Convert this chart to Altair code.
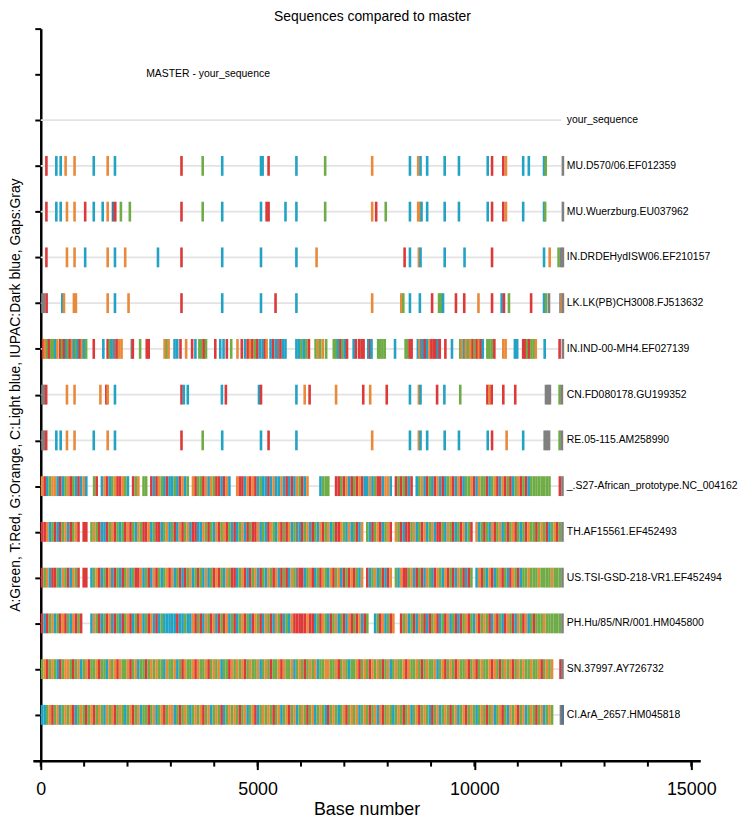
import altair as alt
import pandas as pd

# ---------------- text ----------------
TITLE = "Sequences compared to master"
X_TITLE = "Base number"
Y_TITLE = "A:Green, T:Red, G:Orange, C:Light blue, IUPAC:Dark blue, Gaps:Gray"
MASTER_LABEL = "MASTER - your_sequence"
MASTER_ROW = 15
MASTER_X = 2430

# ---------------- rows (top to bottom) ----------------
SEQ_NAMES = [
    "your_sequence",
    "MU.D570/06.EF012359",
    "MU.Wuerzburg.EU037962",
    "IN.DRDEHydISW06.EF210157",
    "LK.LK(PB)CH3008.FJ513632",
    "IN.IND-00-MH4.EF027139",
    "CN.FD080178.GU199352",
    "RE.05-115.AM258990",
    "_.S27-African_prototype.NC_004162",
    "TH.AF15561.EF452493",
    "US.TSI-GSD-218-VR1.EF452494",
    "PH.Hu/85/NR/001.HM045800",
    "SN.37997.AY726732",
    "CI.ArA_2657.HM045818",
]
SEQ_ROWS = [14, 13, 12, 11, 10, 9, 8, 7, 6, 5, 4, 3, 2, 1]
ALIGN_LEN = 12000
LABEL_X = 12130

X_TICKS = [0, 5000, 10000, 15000]
X_MINOR = list(range(0, 15001, 1000))
Y_TICKS = list(range(0, 17))

BASES = ["A", "T", "G", "C", "N", "-"]
BASE_COLORS = ["#6fab46", "#dc3a3a", "#e98a3b", "#22a3c4", "#5b7290", "#808080"]

# ---------------- sparse rows: (base position, base) ----------------
MU_D570 = [(130, "T"), (359, "C"), (459, "C"), (573, "G"), (779, "G"), (1222, "C"), (1543, "G"),
           (1711, "C"), (3245, "T"), (3734, "A"), (4184, "C"), (5078, "C"), (5116, "C"), (5253, "T"),
           (5895, "C"), (6558, "A"), (7642, "G"), (8513, "C"), (8703, "G"), (8757, "C"), (8910, "C"),
           (9314, "C"), (9643, "C"), (10307, "C"), (10406, "T"), (10666, "T"), (10727, "G"),
           (11124, "C"), (11254, "C"), (11605, "C"), (11643, "A"), (12040, "-")]

MU_WUERZBURG = [(130, "T"), (359, "C"), (459, "C"), (604, "G"), (779, "G"), (1024, "T"), (1222, "C"),
                (1428, "C"), (1543, "G"), (1665, "N"), (1718, "T"), (1848, "A"), (2054, "A"),
                (3245, "T"), (3734, "A"), (4184, "C"), (5078, "C"), (5208, "T"), (5253, "T"),
                (5643, "C"), (5895, "C"), (6558, "A"), (7642, "G"), (7734, "T"), (7955, "A"),
                (8513, "C"), (8703, "G"), (8742, "G"), (8780, "C"), (8910, "C"), (9314, "C"),
                (9643, "C"), (10307, "C"), (10406, "T"), (10666, "T"), (10727, "G"), (11124, "C"),
                (11605, "C"), (11630, "A"), (12040, "-")]

IN_DRDE = [(130, "T"), (604, "G"), (779, "G"), (1024, "C"), (1543, "G"), (1711, "C"), (1947, "G"),
           (2703, "C"), (3245, "T"), (4184, "C"), (5078, "C"), (5895, "C"), (6360, "G"), (8390, "T"),
           (8513, "C"), (8719, "G"), (8757, "C"), (9314, "C"), (9772, "C"), (10406, "T"),
           (11605, "C"), (11735, "G"), (11941, "A"), (12002, "-"), (12040, "-")]

LK_CH3008 = [(40, "-"), (80, "-"), (135, "T"), (497, "C"), (535, "G"), (764, "G"), (810, "G"),
             (1543, "G"), (1711, "C"), (2024, "G"), (3245, "T"), (4184, "C"), (5078, "C"),
             (5414, "T"), (5895, "C"), (7642, "G"), (8314, "G"), (8360, "A"), (8513, "C"),
             (8742, "C"), (9024, "T"), (9184, "A"), (9230, "A"), (9276, "C"), (9574, "T"),
             (9765, "T"), (10093, "G"), (10406, "T"), (10628, "C"), (10681, "T"), (10796, "A"),
             (11307, "T"), (11605, "C"), (11651, "A"), (11719, "-"), (11985, "-"), (12010, "G"),
             (12040, "-")]

IN_IND = [(54, "T"), (92, "G"), (146, "A"), (191, "T"), (245, "A"), (283, "A"), (336, "C"), (382, "G"),
          (451, "T"), (489, "A"), (535, "T"), (588, "C"), (627, "A"), (672, "T"), (718, "G"),
          (764, "C"), (810, "A"), (856, "C"), (901, "T"), (947, "G"), (993, "C"), (1046, "A"),
          (1222, "T"), (1443, "C"), (1543, "T"), (1589, "A"), (1634, "C"), (1695, "-"), (1749, "T"),
          (1810, "G"), (1863, "G"), (2100, "-"), (2123, "T"), (2291, "A"), (2444, "T"), (2489, "T"),
          (2856, "G"), (2902, "A"), (2948, "G"), (3085, "C"), (3146, "C"), (3222, "T"), (3352, "G"),
          (3490, "T"), (3566, "C"), (3658, "A"), (3703, "A"), (3757, "T"), (3810, "A"), (4024, "T"),
          (4139, "C"), (4215, "C"), (4291, "T"), (4391, "A"), (4536, "G"), (4635, "T"), (4711, "C"),
          (4772, "T"), (4826, "G"), (4879, "T"), (4940, "A"), (4994, "T"), (5055, "C"), (5116, "C"),
          (5169, "T"), (5208, "G"), (5299, "C"), (5360, "T"), (5421, "C"), (5475, "-"), (5528, "T"),
          (5589, "C"), (5643, "C"), (5895, "C"), (5948, "C"), (6009, "A"), (6063, "C"), (6124, "A"),
          (6184, "T"), (6337, "A"), (6390, "G"), (6444, "A"), (6505, "G"), (6581, "A"), (6757, "A"),
          (6802, "A"), (6856, "C"), (6909, "T"), (6955, "A"), (7009, "C"), (7062, "T"), (7215, "C"),
          (7268, "T"), (7344, "T"), (7398, "T"), (7444, "T"), (7551, "C"), (7596, "T"), (7627, "C"),
          (7780, "A"), (7825, "A"), (7879, "A"), (7932, "A"), (8169, "C"), (8413, "A"), (8452, "A"),
          (8505, "T"), (8551, "T"), (8696, "C"), (8734, "G"), (8772, "-"), (8810, "C"), (8856, "T"),
          (8910, "C"), (8963, "G"), (9009, "T"), (9062, "T"), (9108, "T"), (9154, "C"), (9200, "T"),
          (9330, "T"), (9482, "C"), (9673, "A"), (9711, "G"), (9765, "C"), (9803, "G"), (9849, "A"),
          (9902, "G"), (9956, "T"), (10001, "A"), (10055, "T"), (10101, "G"), (10147, "T"),
          (10192, "C"), (10299, "A"), (10345, "A"), (10398, "A"), (10459, "T"), (10666, "G"),
          (10719, "G"), (10933, "C"), (10986, "C"), (11124, "T"), (11170, "T"), (11215, "A"),
          (11261, "T"), (11315, "A"), (11368, "A"), (11414, "G"), (11620, "C"), (11964, "T"),
          (12040, "-")]

CN_FD080178 = [(40, "-"), (80, "-"), (125, "T"), (604, "G"), (779, "G"), (1375, "G"), (1512, "T"),
               (1543, "G"), (1711, "C"), (3245, "T"), (3299, "C"), (3390, "C"), (4177, "C"),
               (4268, "T"), (5032, "C"), (5078, "T"), (5895, "C"), (6086, "G"), (6199, "T"),
               (6810, "G"), (7436, "T"), (7596, "G"), (7978, "T"), (8513, "C"), (8719, "G"),
               (8757, "C"), (9139, "T"), (9307, "C"), (9673, "A"), (10299, "T"), (10345, "G"),
               (10398, "T"), (10666, "T"), (10941, "T"), (11650, "-"), (11700, "-"), (11740, "-"),
               (11964, "A"), (12017, "-")]

RE_05_115 = [(40, "-"), (80, "-"), (125, "T"), (359, "C"), (459, "C"), (604, "G"), (779, "G"),
             (1222, "C"), (1543, "G"), (1711, "C"), (3245, "T"), (3734, "A"), (4184, "C"),
             (5078, "C"), (5253, "T"), (5895, "C"), (7642, "G"), (8513, "C"), (8719, "G"),
             (8757, "C"), (8910, "C"), (9314, "C"), (9643, "C"), (10307, "C"), (10406, "T"),
             (10742, "G"), (11124, "C"), (11620, "-"), (11670, "-"), (11720, "-"), (11964, "A"),
             (12017, "-")]

# ---------------- dense rows: one base per 60-base bin ('.' = same as master) ----------------
BIN = 60
S27_BINS = ("GTCAGGCTCA" "GTACTCGC.." "AT.CGTCAGT" "TGAC.TAG.A" "A.TCTGACTC"
            "CACTGCA.GT" "AATGCGATTC" "TGC..GTTCG" "TGTCACCTCG" "CCGCTCTCGA"
            "TCG....CAA" "A..TTATGCT" "ATGTCCGCAT" "TCGGC.TATA" "TCT.CAGCTA"
            "CTGCTCAGTC" "GTCAAGTCGA" "ATCAGTCGTA" "TCAGTATCAA" "AAAAAA...T")
TH_BINS = ("TTGCATCTAG" "CTAGT.TT.A" "GATCCTAGTA" "CATGTACGAT" "TGCATTCAGC"
           "ATCGTAGCTT" "CCGATACGTA" "GTACTCAGCT" "ATTGCACTGA" "CGTATGCA-C"
           "TAGCTACGTA" "GCATTGACGC" "ATCG.ACTAG" "TCAGT.GATC" "TTAGCATGCA"
           "GCTTACGATC" "ATGCAT.GCA" "TACGTAGCAT" "AGTACATGAA" "TAGATCAGTA")
US_BINS = ("TAGCTTACGA" "TCGAT.TT.C" "AGTCATGCTA" "CTAGCATTGC" "ATCGTACAGT"
           "GCATCTAGCA" "TACGCATGTA" "CGATTCAGTC" "TAGCTACGAT" "GCTATCGA-T"
           "TCAGTCATGA" "CGTAGCTATG" "TACG.TCAGC" "ATCTG.ACGT" "TAGCTATCGA"
           "CTGACGTATC" "GATCTA.CGT" "ACGTCAGTAC" "TGATCAAGAA" "AGAAAAGAAA")
PH_BINS = ("TCTAGCATGT" "ACGTAT...C" "GATCATGCTA" "CTAGTCATGC" "ATGCTCACCC"
           "CCTCCACCGT" "ATCGATGCTA" "TGCATCAGTA" "CTGATCGATC" "GATCACGTTT"
           "TTGTTCATGA" "CTAGCATCGT" "ATGCTA..CA" "TGCATG..TA" "GCATCGATCT"
           "AGTCATGCAT" "CTAGTACGTA" "GATCGTACTG" "ATCGATGCAT" "AAAGAAAAAA")
SN_BINS = ("AGTAGACTAG" "GATAGCAGTA" "AGTAACGAGT" "GAAGTAGCAA" "TAGAGAACGA"
           "AGCATGAAGT" "GAAGTAGAGC" "AATGAGAGTA" "GAAGCAGATA" "AGTGAAGCAG"
           "ATAGAGCAAG" "GAAGTAGACA" "AGTAGATGAG" "ATAGCAGAAG" "TGAAGATAGA"
           "AGCAGTAGAT" "GAAGTAGTAG" "AAGTGATAGA" "GTAGAGAAGA" "AGTAGAG...")
CI_BINS = ("CCAGTAGCAG" "AGTCAGATAG" "TAGACGAGTA" "GACAGTAGCA" "ATAGCAGTAG"
           "GCATAGACAG" "AGTAGCAGAT" "CAGAGATAGC" "AGTCAGAGAT" "AGCAGTAGCA"
           "GATAGCAGAC" "TAGACAGTAG" "AGCAGATAGC" "GTAGACAGAT" "AGCAGTAGAC"
           "TAGCAGATAG" "CAGTAGACAG" "ATAGCAGTAC" "GAGTAGCAGA" "TAGCAGA...")
S27_TAIL = [(12030, "-")]
TH_TAIL = [(12030, "-")]
US_TAIL = [(12030, "-")]
PH_TAIL = [(12030, "-")]
SN_TAIL = [(11985, "T"), (12030, "-")]
CI_TAIL = [(11995, "-"), (12035, "N")]

SPARSE = {
    "MU.D570/06.EF012359": MU_D570,
    "MU.Wuerzburg.EU037962": MU_WUERZBURG,
    "IN.DRDEHydISW06.EF210157": IN_DRDE,
    "LK.LK(PB)CH3008.FJ513632": LK_CH3008,
    "IN.IND-00-MH4.EF027139": IN_IND,
    "CN.FD080178.GU199352": CN_FD080178,
    "RE.05-115.AM258990": RE_05_115,
    "_.S27-African_prototype.NC_004162": S27_TAIL,
    "TH.AF15561.EF452493": TH_TAIL,
    "US.TSI-GSD-218-VR1.EF452494": US_TAIL,
    "PH.Hu/85/NR/001.HM045800": PH_TAIL,
    "SN.37997.AY726732": SN_TAIL,
    "CI.ArA_2657.HM045818": CI_TAIL,
}
DENSE = {
    "_.S27-African_prototype.NC_004162": S27_BINS,
    "TH.AF15561.EF452493": TH_BINS,
    "US.TSI-GSD-218-VR1.EF452494": US_BINS,
    "PH.Hu/85/NR/001.HM045800": PH_BINS,
    "SN.37997.AY726732": SN_BINS,
    "CI.ArA_2657.HM045818": CI_BINS,
}

# ---------------- build tables ----------------
HALF_TICK = 30      # half width of a single mismatch tick, in bases
HALF_H = 0.217      # half height of a tick, in rows
MINOR_LEN = 0.13    # minor x tick length, in rows
row_of = dict(zip(SEQ_NAMES, SEQ_ROWS))

recs = []
for name, bins in DENSE.items():
    r = row_of[name]
    for i, ch in enumerate(bins):
        if ch != ".":
            recs.append({"x": i * BIN, "x2": (i + 1) * BIN, "y": r - HALF_H, "y2": r + HALF_H, "base": ch})
for name, ticks in SPARSE.items():
    r = row_of[name]
    for pos, ch in ticks:
        recs.append({"x": pos - HALF_TICK, "x2": pos + HALF_TICK, "y": r - HALF_H, "y2": r + HALF_H, "base": ch})
marks_df = pd.DataFrame(recs)

line_df = pd.DataFrame({"y": SEQ_ROWS, "x": [0] * len(SEQ_ROWS), "x2": [ALIGN_LEN] * len(SEQ_ROWS)})
label_df = pd.DataFrame({"name": SEQ_NAMES + [MASTER_LABEL],
                         "y": SEQ_ROWS + [MASTER_ROW],
                         "x": [LABEL_X] * len(SEQ_NAMES) + [MASTER_X]})
minor_df = pd.DataFrame({"x": X_MINOR, "y": [0] * len(X_MINOR), "y2": [-MINOR_LEN] * len(X_MINOR)})

FONT = "Liberation Sans"
xscale = alt.Scale(domain=[-183, 15208], nice=False, zero=False)
yscale = alt.Scale(domain=[0, 16], nice=False, zero=False)

x_axis = alt.Axis(values=X_TICKS, title=X_TITLE, tickSize=9, tickWidth=2, tickColor="black",
                  domainWidth=2.5, domainColor="black", labelFontSize=18, labelFont=FONT,
                  labelColor="black", labelPadding=11, labelFlush=False, titleFont=FONT,
                  titleFontSize=18, titleFontWeight="normal", titleColor="black", titlePadding=2,
                  grid=False, format="d")
y_axis = alt.Axis(values=Y_TICKS, labels=False, tickSize=6, tickWidth=2, tickColor="black",
                  domainWidth=2.5, domainColor="black", title=Y_TITLE, titleFont=FONT,
                  titleFontSize=14, titleFontWeight="normal", titleColor="black",
                  titlePadding=11, grid=False, offset=-8)

X_ENC = alt.X("x:Q", scale=xscale, axis=x_axis, title=X_TITLE)
Y_ENC = alt.Y("y:Q", scale=yscale, axis=y_axis, title=Y_TITLE)

lines = alt.Chart(line_df).mark_rule(color="#e3e3e3", strokeWidth=1.6).encode(
    x=X_ENC, x2="x2:Q", y=Y_ENC,
)

minor = alt.Chart(minor_df).mark_rule(color="black", strokeWidth=2).encode(
    x=X_ENC, y=Y_ENC, y2="y2:Q",
)

bars = alt.Chart(marks_df).mark_rect().encode(
    x=X_ENC, x2="x2:Q", y=Y_ENC, y2="y2:Q",
    color=alt.Color("base:N", scale=alt.Scale(domain=BASES, range=BASE_COLORS), legend=None),
)

labels = alt.Chart(label_df).mark_text(align="left", baseline="middle", fontSize=10.5,
                                       font=FONT, color="black").encode(
    x=X_ENC, y=Y_ENC, text="name:N",
)

chart = alt.layer(lines, minor, bars, labels).properties(
    width=672,
    height=737,
    background="white",
    title=alt.TitleParams(TITLE, fontSize=14, fontWeight="normal", font=FONT, color="black",
                          anchor="middle", offset=4, frame="group", dx=6),
    autosize=alt.AutoSizeParams(type="none"),
    padding={"left": 25, "top": 18, "right": 42, "bottom": 58},
).configure_view(stroke=None)

chart.save("out.html", embed_options={"renderer": "svg", "actions": False})
